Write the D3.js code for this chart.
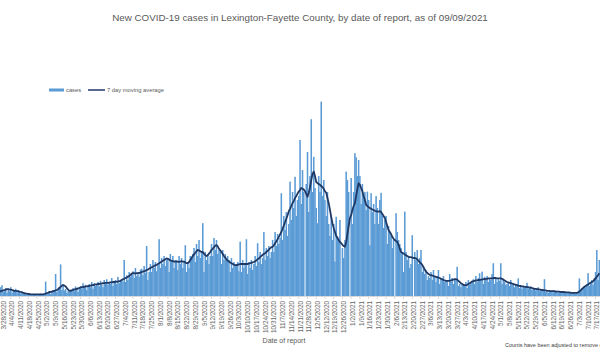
<!DOCTYPE html>
<html>
<head>
<meta charset="utf-8">
<script src="https://cdn.jsdelivr.net/npm/d3@7"></script>
<style>
  html, body { margin: 0; padding: 0; background: #ffffff; }
  svg { display: block; font-family: "Liberation Sans", "DejaVu Sans", sans-serif; }
</style>
</head>
<body>
<svg id="chart" width="600" height="350"></svg>
<script>
// ---------------- DATA ----------------
const titleText = "New COVID-19 cases in Lexington-Fayette County, by date of report, as of 09/09/2021";
const seriesNames = ["cases", "7 day moving average"];
const firstDay = new Date(2020, 2, 24);   // first category (3/24/2020)
const lastDay = new Date(2021, 6, 20);    // last category (7/20/2021)
const firstTick = new Date(2020, 2, 28);  // first axis label 3/28/2020
const lastTick = new Date(2021, 6, 17);   // last axis label 7/17/2021

// daily new cases, rows = weeks starting Saturday
const cases = [
  8, 40, 12, 22,
  27, 10, 14, 20, 8, 18, 12,
  22, 8, 15, 12, 18, 9, 14,
  10, 6, 12, 5, 8, 4, 7,
  3, 6, 2, 5, 4, 3, 5,
  2, 5, 3, 6, 4, 3, 5,
  36, 6, 8, 12, 5, 10, 14,
  12, 55, 10, 18, 22, 79, 15,
  30, 14, 18, 8, 12, 10, 16,
  14, 20, 12, 24, 18, 10, 22,
  25, 18, 32, 20, 28, 15, 24,
  30, 22, 35, 18, 32, 25, 28,
  35, 24, 38, 28, 22, 40, 30,
  42, 28, 36, 30, 45, 25, 35,
  40, 30, 48, 32, 38, 42, 36,
  90, 35, 52, 40, 60, 48, 55,
  62, 45, 70, 50, 58, 48, 66,
  68, 52, 75, 58, 125, 40, 60,
  80, 60, 90, 70, 85, 62, 78,
  142, 70, 95, 80, 100, 75, 90,
  95, 60, 105, 85, 100, 70, 90,
  90, 65, 100, 80, 95, 70, 88,
  127, 60, 85, 70, 100, 95, 105,
  120, 85, 130, 100, 140, 95, 110,
  182, 60, 110, 90, 105, 80, 100,
  130, 100, 145, 115, 140, 105, 115,
  110, 80, 115, 90, 105, 95, 100,
  90, 60, 95, 70, 85, 75, 80,
  85, 62, 136, 60, 90, 70, 78,
  142, 55, 85, 70, 90, 65, 80,
  100, 75, 132, 85, 110, 80, 95,
  160, 90, 120, 100, 125, 95, 110,
  140, 110, 160, 125, 155, 130, 145,
  257, 140, 200, 165, 210, 150, 180,
  286, 190, 260, 220, 298, 200, 240,
  250, 390, 230, 315, 260, 0, 280,
  360, 210, 300, 442, 260, 348, 270,
  220, 182, 300, 260, 486, 250, 290,
  240, 200, 260, 180, 150, 200, 140,
  180, 86, 198, 150, 140, 190, 0,
  120, 95, 140, 311, 290, 260, 0,
  295, 180, 260, 357, 347, 300, 340,
  300, 230, 280, 250, 260, 215, 261,
  240, 127, 257, 210, 230, 180, 250,
  220, 180, 240, 258, 200, 170, 190,
  200, 130, 175, 160, 150, 120, 140,
  0, 207, 160, 140, 130, 120, 110,
  60, 211, 110, 90, 100, 70, 80,
  152, 0, 110, 90, 115, 80, 95,
  115, 60, 75, 55, 65, 40, 50,
  45, 60, 40, 65, 50, 35, 48,
  65, 30, 45, 40, 50, 35, 38,
  40, 25, 55, 35, 45, 30, 42,
  40, 73, 25, 30, 22, 28, 30,
  25, 35, 20, 40, 28, 32, 38,
  42, 30, 50, 35, 45, 57, 40,
  61, 30, 48, 40, 50, 35, 45,
  40, 55, 82, 30, 45, 35, 42,
  38, 82, 30, 40, 35, 28, 30,
  35, 25, 40, 28, 32, 22, 30,
  28, 44, 20, 25, 18, 24, 20,
  22, 33, 18, 20, 24, 15, 18,
  20, 14, 18, 22, 12, 16, 15,
  14, 42, 10, 12, 8, 11, 10,
  12, 9, 14, 10, 13, 8, 11,
  10, 8, 12, 9, 11, 7, 10,
  8, 6, 10, 7, 9, 6, 8,
  10, 44, 12, 20, 18, 25, 22,
  30, 57, 25, 35, 40, 28, 45,
  60, 115, 40, 90
];

// 7 day moving average
const movingAvg = [
  10, 10, 11, 12,
  13, 14, 15, 16, 17, 17, 16,
  16, 15, 14, 13, 13, 12, 12,
  11, 10, 9, 8, 7, 6, 6,
  5, 5, 4, 4, 4, 4, 4,
  4, 4, 4, 4, 4, 4, 5,
  6, 7, 8, 10, 10, 11, 12,
  13, 14, 15, 17, 20, 23, 26,
  27, 26, 24, 20, 16, 13, 13,
  14, 15, 16, 17, 18, 19, 20,
  21, 22, 22, 23, 24, 24, 25,
  25, 26, 27, 27, 28, 29, 29,
  30, 30, 31, 31, 32, 32, 33,
  33, 33, 33, 34, 34, 35, 35,
  35, 36, 36, 37, 38, 40, 42,
  43, 45, 46, 48, 50, 53, 56,
  57, 57, 56, 57, 57, 58, 58,
  60, 61, 62, 63, 65, 66, 68,
  70, 72, 73, 75, 77, 78, 80,
  82, 84, 86, 88, 90, 92, 94,
  93, 91, 89, 88, 87, 86, 86,
  86, 86, 85, 86, 87, 86, 86,
  84, 82, 82, 85, 90, 95, 100,
  104, 108, 112, 115, 114, 112, 110,
  110, 106, 102, 100, 102, 106, 110,
  115, 118, 122, 126, 127, 124, 118,
  114, 110, 105, 100, 96, 92, 88,
  86, 84, 82, 80, 78, 77, 77,
  78, 79, 80, 80, 80, 80, 80,
  80, 80, 81, 82, 83, 84, 85,
  87, 89, 92, 94, 97, 100, 103,
  105, 107, 110, 113, 116, 119, 122,
  123, 127, 132, 137, 142, 148, 154,
  160, 168, 176, 185, 193, 202, 212,
  218, 225, 232, 238, 245, 250, 256,
  261, 265, 270, 268, 266, 262, 255,
  248, 258, 272, 290, 305, 311, 300,
  285, 282, 280, 278, 275, 272, 268,
  262, 258, 245, 232, 215, 198, 182,
  170, 160, 150, 145, 140, 135, 132,
  128, 125, 123, 135, 155, 175, 195,
  202, 215, 225, 232, 250, 268, 282,
  278, 270, 262, 250, 240, 228, 225,
  222, 220, 218, 216, 215, 213, 212,
  211, 211, 212, 210, 205, 200, 195,
  185, 175, 165, 160, 155, 148, 143,
  140, 137, 135, 128, 118, 110, 108,
  106, 104, 102, 100, 98, 97, 97,
  96, 95, 95, 94, 92, 88, 84,
  82, 78, 72, 66, 61, 58, 55,
  53, 52, 51, 50, 49, 48, 47,
  46, 45, 43, 42, 40, 39, 38,
  38, 38, 38, 39, 40, 41, 42,
  42, 41, 38, 35, 32, 30, 28,
  27, 27, 28, 30, 32, 34, 36,
  37, 38, 39, 39, 40, 40, 41,
  41, 42, 42, 43, 43, 44, 44,
  44, 44, 45, 45, 45, 44, 44,
  44, 44, 43, 41, 39, 37, 35,
  34, 33, 32, 31, 30, 29, 28,
  27, 26, 25, 25, 24, 24, 23,
  23, 22, 22, 21, 21, 20, 19,
  18, 18, 17, 17, 16, 16, 15,
  15, 14, 14, 13, 13, 13, 12,
  12, 12, 12, 11, 11, 11, 11,
  10, 10, 10, 10, 9, 9, 9,
  9, 8, 8, 8, 8, 8, 8,
  9, 11, 14, 17, 20, 23, 25,
  27, 29, 31, 33, 35, 37, 40,
  44, 48, 52, 57
];

// ---------------- CHART ----------------
const svg = d3.select("#chart");
const days = d3.timeDay.range(firstDay, d3.timeDay.offset(lastDay, 1));
const step = 1.247;
const x0 = -3.61;

const x = d3.scaleBand()
  .domain(days)
  .range([x0, x0 + days.length * step])
  .paddingInner(0)
  .paddingOuter(0);

const baseY = 296;
const y = d3.scaleLinear().domain([0, 500]).range([baseY, 96]);

const rows = days.map((d, i) => ({ date: d, v: cases[i], ma: movingAvg[i] }));

// title
svg.append("text")
  .attr("x", 300).attr("y", 21)
  .attr("text-anchor", "middle")
  .attr("fill", "#595959")
  .attr("font-size", "9.8px")
  .text(titleText);

// bars (slightly overlapping to avoid anti-alias seams)
svg.append("g").selectAll("rect")
  .data(rows)
  .join("rect")
  .attr("x", d => x(d.date) - 0.15)
  .attr("width", x.bandwidth() + 0.3)
  .attr("y", d => y(d.v))
  .attr("height", d => baseY - y(d.v))
  .attr("fill", "#5B9BD5");

// axis
const tickDates = d3.timeDay.range(firstTick, d3.timeDay.offset(lastTick, 1), 7);
const fmt = d3.timeFormat("%-m/%-d/%Y");
const axis = d3.axisBottom(x)
  .tickValues(tickDates)
  .tickFormat(fmt)
  .tickSize(3)
  .tickSizeOuter(0);
const gx = svg.append("g").attr("transform", `translate(0,${baseY})`).call(axis);
gx.select(".domain").attr("stroke", "#d9d9d9");
gx.selectAll(".tick line").attr("stroke", "#d9d9d9");
gx.selectAll(".tick text")
  .attr("transform", "rotate(-90)")
  .attr("x", -5)
  .attr("y", 1.5)
  .attr("dy", "0.35em")
  .attr("text-anchor", "end")
  .attr("fill", "#666666")
  .attr("font-size", "6.4px")
  .attr("font-family", "Liberation Sans, sans-serif");

// moving average line
const line = d3.line()
  .x(d => x(d.date) + x.bandwidth() / 2)
  .y(d => y(d.ma));
svg.append("path")
  .datum(rows)
  .attr("d", line)
  .attr("fill", "none")
  .attr("stroke", "#203864")
  .attr("stroke-width", 1.8)
  .attr("stroke-linejoin", "round");

// legend
const lg = svg.append("g").attr("font-size", "5.8px").attr("fill", "#595959");
lg.append("rect").attr("x", 49).attr("y", 88.5).attr("width", 15).attr("height", 3).attr("fill", "#5B9BD5");
lg.append("text").attr("x", 66).attr("y", 92).text(seriesNames[0]);
lg.append("line").attr("x1", 88).attr("x2", 105).attr("y1", 90).attr("y2", 90)
  .attr("stroke", "#203864").attr("stroke-width", 1.5);
lg.append("text").attr("x", 107).attr("y", 92).text(seriesNames[1]);

// axis title
svg.append("text")
  .attr("x", 284).attr("y", 343)
  .attr("text-anchor", "middle")
  .attr("fill", "#595959")
  .attr("font-size", "7px")
  .text("Date of report");

// footnote (cut off at the right edge, as in the reference)
svg.append("text")
  .attr("x", 505).attr("y", 347)
  .attr("fill", "#404040")
  .attr("font-size", "5.5px")
  .text("Counts have been adjusted to remove duplicates");
</script>
</body>
</html>
